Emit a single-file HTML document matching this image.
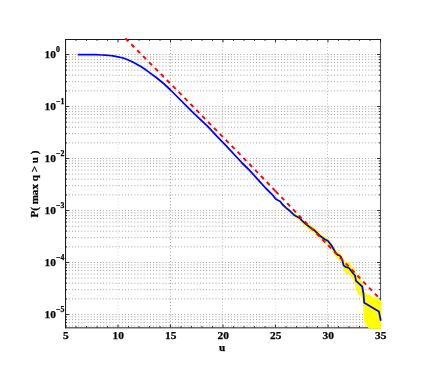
<!DOCTYPE html>
<html><head><meta charset="utf-8"><title>plot</title>
<style>html,body{margin:0;padding:0;background:#fff;width:436px;height:382px;overflow:hidden}
body{font-family:"Liberation Serif",serif}</style></head>
<body>
<svg width="436" height="382" viewBox="0 0 436 382" style="position:absolute;left:0;top:0">
<rect x="0" y="0" width="436" height="382" fill="#fff"/>
<g fill="none">
<line x1="65.70" y1="54.50" x2="380.50" y2="54.50" stroke="#000" stroke-opacity="0.37" stroke-width="1" stroke-dasharray="1 2.12"/>
<line x1="65.70" y1="106.50" x2="380.50" y2="106.50" stroke="#000" stroke-opacity="0.37" stroke-width="1" stroke-dasharray="1 2.12"/>
<line x1="65.70" y1="90.85" x2="380.50" y2="90.85" stroke="#000" stroke-opacity="0.37" stroke-width="1" stroke-dasharray="1 2.12"/>
<line x1="65.70" y1="81.69" x2="380.50" y2="81.69" stroke="#000" stroke-opacity="0.37" stroke-width="1" stroke-dasharray="1 2.12"/>
<line x1="65.70" y1="75.19" x2="380.50" y2="75.19" stroke="#000" stroke-opacity="0.37" stroke-width="1" stroke-dasharray="1 2.12"/>
<line x1="65.70" y1="70.15" x2="380.50" y2="70.15" stroke="#000" stroke-opacity="0.37" stroke-width="1" stroke-dasharray="1 2.12"/>
<line x1="65.70" y1="66.04" x2="380.50" y2="66.04" stroke="#000" stroke-opacity="0.37" stroke-width="1" stroke-dasharray="1 2.12"/>
<line x1="65.70" y1="62.55" x2="380.50" y2="62.55" stroke="#000" stroke-opacity="0.37" stroke-width="1" stroke-dasharray="1 2.12"/>
<line x1="65.70" y1="59.54" x2="380.50" y2="59.54" stroke="#000" stroke-opacity="0.37" stroke-width="1" stroke-dasharray="1 2.12"/>
<line x1="65.70" y1="56.88" x2="380.50" y2="56.88" stroke="#000" stroke-opacity="0.37" stroke-width="1" stroke-dasharray="1 2.12"/>
<line x1="65.70" y1="158.50" x2="380.50" y2="158.50" stroke="#000" stroke-opacity="0.37" stroke-width="1" stroke-dasharray="1 2.12"/>
<line x1="65.70" y1="142.85" x2="380.50" y2="142.85" stroke="#000" stroke-opacity="0.37" stroke-width="1" stroke-dasharray="1 2.12"/>
<line x1="65.70" y1="133.69" x2="380.50" y2="133.69" stroke="#000" stroke-opacity="0.37" stroke-width="1" stroke-dasharray="1 2.12"/>
<line x1="65.70" y1="127.19" x2="380.50" y2="127.19" stroke="#000" stroke-opacity="0.37" stroke-width="1" stroke-dasharray="1 2.12"/>
<line x1="65.70" y1="122.15" x2="380.50" y2="122.15" stroke="#000" stroke-opacity="0.37" stroke-width="1" stroke-dasharray="1 2.12"/>
<line x1="65.70" y1="118.04" x2="380.50" y2="118.04" stroke="#000" stroke-opacity="0.37" stroke-width="1" stroke-dasharray="1 2.12"/>
<line x1="65.70" y1="114.55" x2="380.50" y2="114.55" stroke="#000" stroke-opacity="0.37" stroke-width="1" stroke-dasharray="1 2.12"/>
<line x1="65.70" y1="111.54" x2="380.50" y2="111.54" stroke="#000" stroke-opacity="0.37" stroke-width="1" stroke-dasharray="1 2.12"/>
<line x1="65.70" y1="108.88" x2="380.50" y2="108.88" stroke="#000" stroke-opacity="0.37" stroke-width="1" stroke-dasharray="1 2.12"/>
<line x1="65.70" y1="210.50" x2="380.50" y2="210.50" stroke="#000" stroke-opacity="0.37" stroke-width="1" stroke-dasharray="1 2.12"/>
<line x1="65.70" y1="194.85" x2="380.50" y2="194.85" stroke="#000" stroke-opacity="0.37" stroke-width="1" stroke-dasharray="1 2.12"/>
<line x1="65.70" y1="185.69" x2="380.50" y2="185.69" stroke="#000" stroke-opacity="0.37" stroke-width="1" stroke-dasharray="1 2.12"/>
<line x1="65.70" y1="179.19" x2="380.50" y2="179.19" stroke="#000" stroke-opacity="0.37" stroke-width="1" stroke-dasharray="1 2.12"/>
<line x1="65.70" y1="174.15" x2="380.50" y2="174.15" stroke="#000" stroke-opacity="0.37" stroke-width="1" stroke-dasharray="1 2.12"/>
<line x1="65.70" y1="170.04" x2="380.50" y2="170.04" stroke="#000" stroke-opacity="0.37" stroke-width="1" stroke-dasharray="1 2.12"/>
<line x1="65.70" y1="166.55" x2="380.50" y2="166.55" stroke="#000" stroke-opacity="0.37" stroke-width="1" stroke-dasharray="1 2.12"/>
<line x1="65.70" y1="163.54" x2="380.50" y2="163.54" stroke="#000" stroke-opacity="0.37" stroke-width="1" stroke-dasharray="1 2.12"/>
<line x1="65.70" y1="160.88" x2="380.50" y2="160.88" stroke="#000" stroke-opacity="0.37" stroke-width="1" stroke-dasharray="1 2.12"/>
<line x1="65.70" y1="262.50" x2="380.50" y2="262.50" stroke="#000" stroke-opacity="0.37" stroke-width="1" stroke-dasharray="1 2.12"/>
<line x1="65.70" y1="246.85" x2="380.50" y2="246.85" stroke="#000" stroke-opacity="0.37" stroke-width="1" stroke-dasharray="1 2.12"/>
<line x1="65.70" y1="237.69" x2="380.50" y2="237.69" stroke="#000" stroke-opacity="0.37" stroke-width="1" stroke-dasharray="1 2.12"/>
<line x1="65.70" y1="231.19" x2="380.50" y2="231.19" stroke="#000" stroke-opacity="0.37" stroke-width="1" stroke-dasharray="1 2.12"/>
<line x1="65.70" y1="226.15" x2="380.50" y2="226.15" stroke="#000" stroke-opacity="0.37" stroke-width="1" stroke-dasharray="1 2.12"/>
<line x1="65.70" y1="222.04" x2="380.50" y2="222.04" stroke="#000" stroke-opacity="0.37" stroke-width="1" stroke-dasharray="1 2.12"/>
<line x1="65.70" y1="218.55" x2="380.50" y2="218.55" stroke="#000" stroke-opacity="0.37" stroke-width="1" stroke-dasharray="1 2.12"/>
<line x1="65.70" y1="215.54" x2="380.50" y2="215.54" stroke="#000" stroke-opacity="0.37" stroke-width="1" stroke-dasharray="1 2.12"/>
<line x1="65.70" y1="212.88" x2="380.50" y2="212.88" stroke="#000" stroke-opacity="0.37" stroke-width="1" stroke-dasharray="1 2.12"/>
<line x1="65.70" y1="314.50" x2="380.50" y2="314.50" stroke="#000" stroke-opacity="0.37" stroke-width="1" stroke-dasharray="1 2.12"/>
<line x1="65.70" y1="298.85" x2="380.50" y2="298.85" stroke="#000" stroke-opacity="0.37" stroke-width="1" stroke-dasharray="1 2.12"/>
<line x1="65.70" y1="289.69" x2="380.50" y2="289.69" stroke="#000" stroke-opacity="0.37" stroke-width="1" stroke-dasharray="1 2.12"/>
<line x1="65.70" y1="283.19" x2="380.50" y2="283.19" stroke="#000" stroke-opacity="0.37" stroke-width="1" stroke-dasharray="1 2.12"/>
<line x1="65.70" y1="278.15" x2="380.50" y2="278.15" stroke="#000" stroke-opacity="0.37" stroke-width="1" stroke-dasharray="1 2.12"/>
<line x1="65.70" y1="274.04" x2="380.50" y2="274.04" stroke="#000" stroke-opacity="0.37" stroke-width="1" stroke-dasharray="1 2.12"/>
<line x1="65.70" y1="270.55" x2="380.50" y2="270.55" stroke="#000" stroke-opacity="0.37" stroke-width="1" stroke-dasharray="1 2.12"/>
<line x1="65.70" y1="267.54" x2="380.50" y2="267.54" stroke="#000" stroke-opacity="0.37" stroke-width="1" stroke-dasharray="1 2.12"/>
<line x1="65.70" y1="264.88" x2="380.50" y2="264.88" stroke="#000" stroke-opacity="0.37" stroke-width="1" stroke-dasharray="1 2.12"/>
<line x1="65.70" y1="326.04" x2="380.50" y2="326.04" stroke="#000" stroke-opacity="0.37" stroke-width="1" stroke-dasharray="1 2.12"/>
<line x1="65.70" y1="322.55" x2="380.50" y2="322.55" stroke="#000" stroke-opacity="0.37" stroke-width="1" stroke-dasharray="1 2.12"/>
<line x1="65.70" y1="319.54" x2="380.50" y2="319.54" stroke="#000" stroke-opacity="0.37" stroke-width="1" stroke-dasharray="1 2.12"/>
<line x1="65.70" y1="316.88" x2="380.50" y2="316.88" stroke="#000" stroke-opacity="0.37" stroke-width="1" stroke-dasharray="1 2.12"/>
<line x1="118.00" y1="40.50" x2="118.00" y2="327.50" stroke="#000" stroke-opacity="0.16" stroke-width="1" stroke-dasharray="1 2.15"/>
<line x1="170.40" y1="40.50" x2="170.40" y2="327.50" stroke="#000" stroke-opacity="0.42" stroke-width="1" stroke-dasharray="1 2.15"/>
<line x1="222.60" y1="40.50" x2="222.60" y2="327.50" stroke="#000" stroke-opacity="0.26" stroke-width="1" stroke-dasharray="1 2.15"/>
<line x1="275.20" y1="40.50" x2="275.20" y2="327.50" stroke="#000" stroke-opacity="0.16" stroke-width="1" stroke-dasharray="1 2.15"/>
<line x1="327.50" y1="40.50" x2="327.50" y2="327.50" stroke="#000" stroke-opacity="0.28" stroke-width="1" stroke-dasharray="1 2.15"/>
</g>
<path d="M380.5 39.0 V327.7" stroke="#5a5a5a" stroke-width="1.1" fill="none"/>
<path d="M65.0 327.8 H381.05" stroke="#6a6a6a" stroke-width="1.5" fill="none"/>
<path d="M65.55 328.3 V39.4 H381.0" stroke="#1c1c1c" stroke-width="1.05" fill="none" stroke-linejoin="miter"/>
<path d="M65.50 327.5 v-2.9 M65.50 39.5 v2.9 M76.00 327.5 v-1.4 M76.00 39.5 v1.4 M86.50 327.5 v-1.4 M86.50 39.5 v1.4 M97.00 327.5 v-1.4 M97.00 39.5 v1.4 M107.50 327.5 v-1.4 M107.50 39.5 v1.4 M118.00 327.5 v-2.9 M118.00 39.5 v2.9 M128.50 327.5 v-1.4 M128.50 39.5 v1.4 M139.00 327.5 v-1.4 M139.00 39.5 v1.4 M149.50 327.5 v-1.4 M149.50 39.5 v1.4 M160.00 327.5 v-1.4 M160.00 39.5 v1.4 M170.50 327.5 v-2.9 M170.50 39.5 v2.9 M181.00 327.5 v-1.4 M181.00 39.5 v1.4 M191.50 327.5 v-1.4 M191.50 39.5 v1.4 M202.00 327.5 v-1.4 M202.00 39.5 v1.4 M212.50 327.5 v-1.4 M212.50 39.5 v1.4 M223.00 327.5 v-2.9 M223.00 39.5 v2.9 M233.50 327.5 v-1.4 M233.50 39.5 v1.4 M244.00 327.5 v-1.4 M244.00 39.5 v1.4 M254.50 327.5 v-1.4 M254.50 39.5 v1.4 M265.00 327.5 v-1.4 M265.00 39.5 v1.4 M275.50 327.5 v-2.9 M275.50 39.5 v2.9 M286.00 327.5 v-1.4 M286.00 39.5 v1.4 M296.50 327.5 v-1.4 M296.50 39.5 v1.4 M307.00 327.5 v-1.4 M307.00 39.5 v1.4 M317.50 327.5 v-1.4 M317.50 39.5 v1.4 M328.00 327.5 v-2.9 M328.00 39.5 v2.9 M338.50 327.5 v-1.4 M338.50 39.5 v1.4 M349.00 327.5 v-1.4 M349.00 39.5 v1.4 M359.50 327.5 v-1.4 M359.50 39.5 v1.4 M370.00 327.5 v-1.4 M370.00 39.5 v1.4 M380.50 327.5 v-2.9 M380.50 39.5 v2.9 M65.5 54.50 h3.4 M380.5 54.50 h-3.4 M65.5 106.50 h3.4 M380.5 106.50 h-3.4 M65.5 90.85 h1.5 M380.5 90.85 h-1.5 M65.5 81.69 h1.5 M380.5 81.69 h-1.5 M65.5 75.19 h1.5 M380.5 75.19 h-1.5 M65.5 70.15 h1.5 M380.5 70.15 h-1.5 M65.5 66.04 h1.5 M380.5 66.04 h-1.5 M65.5 62.55 h1.5 M380.5 62.55 h-1.5 M65.5 59.54 h1.5 M380.5 59.54 h-1.5 M65.5 56.88 h1.5 M380.5 56.88 h-1.5 M65.5 158.50 h3.4 M380.5 158.50 h-3.4 M65.5 142.85 h1.5 M380.5 142.85 h-1.5 M65.5 133.69 h1.5 M380.5 133.69 h-1.5 M65.5 127.19 h1.5 M380.5 127.19 h-1.5 M65.5 122.15 h1.5 M380.5 122.15 h-1.5 M65.5 118.04 h1.5 M380.5 118.04 h-1.5 M65.5 114.55 h1.5 M380.5 114.55 h-1.5 M65.5 111.54 h1.5 M380.5 111.54 h-1.5 M65.5 108.88 h1.5 M380.5 108.88 h-1.5 M65.5 210.50 h3.4 M380.5 210.50 h-3.4 M65.5 194.85 h1.5 M380.5 194.85 h-1.5 M65.5 185.69 h1.5 M380.5 185.69 h-1.5 M65.5 179.19 h1.5 M380.5 179.19 h-1.5 M65.5 174.15 h1.5 M380.5 174.15 h-1.5 M65.5 170.04 h1.5 M380.5 170.04 h-1.5 M65.5 166.55 h1.5 M380.5 166.55 h-1.5 M65.5 163.54 h1.5 M380.5 163.54 h-1.5 M65.5 160.88 h1.5 M380.5 160.88 h-1.5 M65.5 262.50 h3.4 M380.5 262.50 h-3.4 M65.5 246.85 h1.5 M380.5 246.85 h-1.5 M65.5 237.69 h1.5 M380.5 237.69 h-1.5 M65.5 231.19 h1.5 M380.5 231.19 h-1.5 M65.5 226.15 h1.5 M380.5 226.15 h-1.5 M65.5 222.04 h1.5 M380.5 222.04 h-1.5 M65.5 218.55 h1.5 M380.5 218.55 h-1.5 M65.5 215.54 h1.5 M380.5 215.54 h-1.5 M65.5 212.88 h1.5 M380.5 212.88 h-1.5 M65.5 314.50 h3.4 M380.5 314.50 h-3.4 M65.5 298.85 h1.5 M380.5 298.85 h-1.5 M65.5 289.69 h1.5 M380.5 289.69 h-1.5 M65.5 283.19 h1.5 M380.5 283.19 h-1.5 M65.5 278.15 h1.5 M380.5 278.15 h-1.5 M65.5 274.04 h1.5 M380.5 274.04 h-1.5 M65.5 270.55 h1.5 M380.5 270.55 h-1.5 M65.5 267.54 h1.5 M380.5 267.54 h-1.5 M65.5 264.88 h1.5 M380.5 264.88 h-1.5 M65.5 326.04 h1.5 M380.5 326.04 h-1.5 M65.5 322.55 h1.5 M380.5 322.55 h-1.5 M65.5 319.54 h1.5 M380.5 319.54 h-1.5 M65.5 316.88 h1.5 M380.5 316.88 h-1.5" stroke="#1a1a1a" stroke-width="0.9" fill="none"/>
<polygon fill="#ffff00" points="277.0,199.1 280.3,200.5 282.1,202.7 285.8,206.0 290.3,209.5 294.0,213.0 296.8,214.5 299.5,215.9 302.3,218.7 305.9,221.9 310.6,225.3 315.0,228.3 320.5,233.7 325.1,236.8 327.8,238.0 331.5,242.7 334.7,248.2 337.6,251.8 340.0,252.9 342.0,255.0 345.2,262.2 349.3,262.2 350.8,264.8 355.0,270.0 357.0,275.6 362.2,281.8 363.7,286.0 364.8,293.0 379.5,299.8 381.0,300.5 381.0,328.7 369.0,328.7 364.2,322.0 363.0,305.3 362.3,297.3 358.0,294.0 355.5,287.0 354.4,281.8 351.9,278.2 349.8,274.6 345.2,273.0 343.6,270.5 342.6,265.3 341.6,262.8 338.8,259.5 334.1,254.7 330.9,249.0 327.2,244.2 324.5,242.9 319.9,239.6 314.4,233.8 310.0,230.4 305.3,226.6 301.7,223.1 298.9,220.1 296.2,218.5 293.4,216.8 289.7,213.1 285.2,209.2 281.5,205.3 279.7,202.5 276.4,200.3"/>
<polyline fill="none" stroke="#0000ff" stroke-width="1.75" stroke-linejoin="round" points="77.7,54.6 95.0,54.7 101.9,55.0 105.0,55.2 109.9,55.5 114.5,56.1 117.9,56.8 121.0,57.5 123.7,58.2 126.5,59.2 129.4,60.5 132.1,61.8 135.1,63.3 138.0,64.9 140.9,66.6 145.0,69.3 148.2,71.6 156.2,77.5 164.2,84.0 170.0,89.5 176.0,95.5 192.1,111.6 208.2,126.9 217.0,136.4 226.0,145.6 242.1,163.0 250.1,170.8 258.0,179.6 266.0,188.5 272.0,194.3 275.7,198.9 278.0,200.3 280.3,201.5 282.1,204.0 285.8,207.6 290.3,211.3 294.0,214.9 296.8,216.5 299.5,218.0 302.3,220.9 305.9,224.1 310.6,227.7 315.0,230.8 320.5,236.3 325.1,239.5 327.8,240.8 331.5,245.5 333.7,249.2 335.5,252.6 337.6,254.8 339.6,255.5 341.0,257.0 342.6,261.0 343.5,265.3 345.4,266.9 349.0,268.0 350.7,270.3 352.6,272.7 355.0,275.5 356.0,280.8 362.2,286.5 363.5,294.0 364.2,302.8 378.9,311.5 380.8,320.7"/>
<polyline fill="none" stroke="#ff0000" stroke-width="1.9" stroke-dasharray="4.2 4.2" points="125.3,38.3 127.0,40.0 182.0,95.3 238.9,153.2 275.5,191.1"/>
<polyline fill="none" stroke="#ff0000" stroke-width="1.9" stroke-dasharray="4.2 4.2" points="275.5,191.1 295.2,211.6 335.0,252.3 371.0,289.6 380.5,299.4"/>
<g style="will-change:transform">
<text x="65.80" y="339.4" font-size="11.4" text-anchor="middle" font-family="Liberation Serif, serif" font-weight="bold" fill="#000" stroke="#000" stroke-width="0.25">5</text>
<text x="118.30" y="339.4" font-size="11.4" text-anchor="middle" font-family="Liberation Serif, serif" font-weight="bold" fill="#000" stroke="#000" stroke-width="0.25">10</text>
<text x="170.80" y="339.4" font-size="11.4" text-anchor="middle" font-family="Liberation Serif, serif" font-weight="bold" fill="#000" stroke="#000" stroke-width="0.25">15</text>
<text x="223.30" y="339.4" font-size="11.4" text-anchor="middle" font-family="Liberation Serif, serif" font-weight="bold" fill="#000" stroke="#000" stroke-width="0.25">20</text>
<text x="275.80" y="339.4" font-size="11.4" text-anchor="middle" font-family="Liberation Serif, serif" font-weight="bold" fill="#000" stroke="#000" stroke-width="0.25">25</text>
<text x="328.30" y="339.4" font-size="11.4" text-anchor="middle" font-family="Liberation Serif, serif" font-weight="bold" fill="#000" stroke="#000" stroke-width="0.25">30</text>
<text x="380.80" y="339.4" font-size="11.4" text-anchor="middle" font-family="Liberation Serif, serif" font-weight="bold" fill="#000" stroke="#000" stroke-width="0.25">35</text>
<text x="44.6" y="58.10" font-size="11.4" font-family="Liberation Serif, serif" font-weight="bold" fill="#000" stroke="#000" stroke-width="0.25">10<tspan dy="-6.2" font-size="7.8">0</tspan></text>
<text x="44.6" y="110.10" font-size="11.4" font-family="Liberation Serif, serif" font-weight="bold" fill="#000" stroke="#000" stroke-width="0.25">10<tspan dy="-6.2" font-size="7.8">−1</tspan></text>
<text x="44.6" y="162.10" font-size="11.4" font-family="Liberation Serif, serif" font-weight="bold" fill="#000" stroke="#000" stroke-width="0.25">10<tspan dy="-6.2" font-size="7.8">−2</tspan></text>
<text x="44.6" y="214.10" font-size="11.4" font-family="Liberation Serif, serif" font-weight="bold" fill="#000" stroke="#000" stroke-width="0.25">10<tspan dy="-6.2" font-size="7.8">−3</tspan></text>
<text x="44.6" y="266.10" font-size="11.4" font-family="Liberation Serif, serif" font-weight="bold" fill="#000" stroke="#000" stroke-width="0.25">10<tspan dy="-6.2" font-size="7.8">−4</tspan></text>
<text x="44.6" y="318.10" font-size="11.4" font-family="Liberation Serif, serif" font-weight="bold" fill="#000" stroke="#000" stroke-width="0.25">10<tspan dy="-6.2" font-size="7.8">−5</tspan></text>
<text x="222.1" y="350.6" font-size="11.2" text-anchor="middle" font-family="Liberation Serif, serif" font-weight="bold" fill="#000" stroke="#000" stroke-width="0.25">u</text>
<text transform="translate(37.6 184.1) rotate(-90)" font-size="11.1" text-anchor="middle" font-family="Liberation Serif, serif" font-weight="bold" fill="#000" stroke="#000" stroke-width="0.25">P( max q &gt; u )</text>
</g>
</svg>
</body></html>
